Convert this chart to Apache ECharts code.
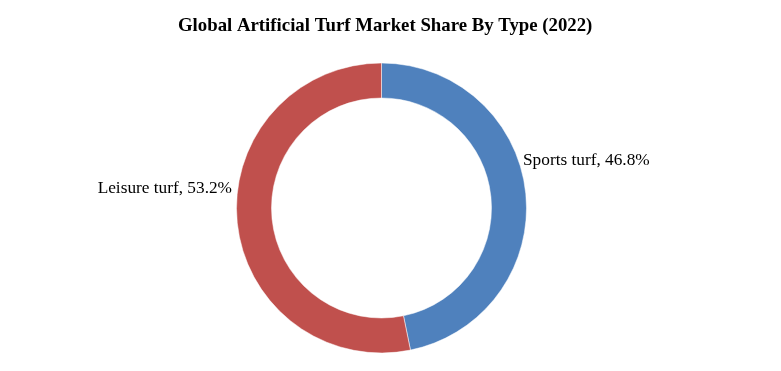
<!DOCTYPE html>
<html>
<head>
<meta charset="utf-8">
<script src="https://cdn.jsdelivr.net/npm/echarts@6/dist/echarts.min.js"></script>
<style>
html,body{margin:0;padding:0;background:#fff;}
#chart{width:781px;height:371px;}
</style>
</head>
<body>
<div id="chart"></div>
<script>
const titleText = 'Global Artificial Turf Market Share By Type (2022)';
const categories = ['Sports turf', 'Leisure turf'];
const shares = [46.8, 53.2];
const colors = ['#4F81BD', '#C0504D'];

const chart = echarts.init(document.getElementById('chart'), null, {renderer: 'canvas'});
const labelPos = [
  {x: 523, y: 160, align: 'left'},
  {x: 232, y: 188, align: 'right'}
];
chart.setOption({
  animation: false,
  backgroundColor: '#fff',
  title: {
    text: titleText,
    left: 173,
    top: 12,
    textStyle: {fontFamily: 'Liberation Serif', fontWeight: 'bold', fontSize: 18.8, color: '#000'}
  },
  series: [{
    type: 'pie',
    center: [381.5, 208],
    radius: [110, 145],
    startAngle: 90,
    clockwise: true,
    data: categories.map((c, i) => ({name: c, value: shares[i], itemStyle: {color: colors[i]}})),
    itemStyle: {borderColor: '#fff', borderWidth: 0.5},
    label: {
      show: true,
      position: 'outside',
      formatter: p => p.name + ', ' + p.value.toFixed(1) + '%',
      fontFamily: 'Liberation Serif',
      fontSize: 17.3,
      color: '#000'
    },
    labelLine: {show: false},
    labelLayout: p => ({x: labelPos[p.dataIndex].x, y: labelPos[p.dataIndex].y, align: labelPos[p.dataIndex].align, verticalAlign: 'middle'}),
    emphasis: {disabled: true}
  }]
});
</script>
</body>
</html>
